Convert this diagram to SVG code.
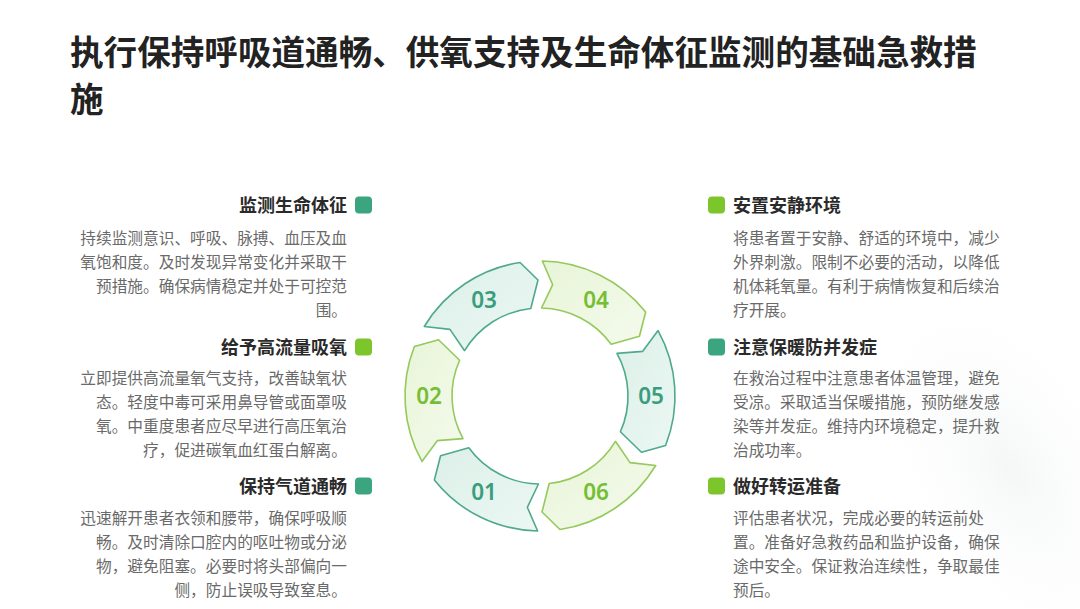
<svg xmlns="http://www.w3.org/2000/svg" width="1080" height="609" viewBox="0 0 1080 609">
<defs>
<style>
.title{font-family:"Noto Sans CJK SC","Noto Sans",sans-serif;font-weight:700;font-size:33.6px;fill:#222222}
.head{font-family:"Noto Sans CJK SC","Noto Sans",sans-serif;font-weight:700;font-size:18px;fill:#2a2a2a}
.body{font-family:"Noto Sans CJK SC","Noto Sans",sans-serif;font-size:15.7px;fill:#6a6a6a}
.l{text-anchor:end}
.num{font-family:"Noto Sans","Open Sans",sans-serif;font-weight:600;font-size:22.5px;text-anchor:middle}
.segT{fill:url(#gT);stroke:#4fa98c;stroke-width:1.6;stroke-linejoin:round}
.segG{fill:url(#gG);stroke:#95c95c;stroke-width:1.6;stroke-linejoin:round}
.nT{fill:#3a9d7e}
.nG{fill:#76be33}
.icT{fill:#3aa57e}
.icG{fill:#7cc52a}
</style>
<linearGradient id="gT" x1="0" y1="0" x2="1" y2="1">
<stop offset="0" stop-color="#dcf0e8"/>
<stop offset="1" stop-color="#ecf7f3"/>
</linearGradient>
<linearGradient id="gG" x1="0" y1="0" x2="1" y2="1">
<stop offset="0" stop-color="#e8f5d8"/>
<stop offset="1" stop-color="#f4faec"/>
</linearGradient>
<radialGradient id="bg" cx="0.5" cy="0.5" r="0.5">
<stop offset="0" stop-color="#f2f4f4" stop-opacity="0.8"/>
<stop offset="1" stop-color="#ffffff" stop-opacity="0"/>
</radialGradient>
</defs>
<rect width="1080" height="609" fill="#ffffff"/>
<ellipse cx="1010" cy="470" rx="120" ry="220" transform="rotate(-30 1010 470)" fill="url(#bg)"/>

<g id="title">
<text class="title" x="70" y="65">执行保持呼吸道通畅、供氧支持及生命体征监测的基础急救措</text>
<text class="title" x="70" y="112">施</text>
</g>

<g id="ring">
<g id="seg01">
<path class="segT" d="M537.64,530.98 A135,135 0 0 1 434.35,480.04 L440.57,455.74 L468.81,447.73 A88,88 0 0 0 538.46,483.99 L527.32,507.28 Z"/>
<text class="num nT" x="484" y="500">01</text>
</g>
<g id="seg02">
<path class="segG" d="M421.93,461.45 A135,135 0 0 1 414.40,346.52 L438.55,339.76 L459.61,360.21 A88,88 0 0 0 463.04,438.66 L437.28,440.65 Z"/>
<text class="num nG" x="429" y="404">02</text>
</g>
<g id="seg03">
<path class="segT" d="M424.28,326.47 A135,135 0 0 1 520.05,262.48 L537.98,280.02 L530.80,308.48 A88,88 0 0 0 464.57,350.68 L449.96,329.38 Z"/>
<text class="num nT" x="484" y="308">03</text>
</g>
<g id="seg04">
<path class="segG" d="M542.36,261.02 A135,135 0 0 1 645.65,311.96 L639.43,336.26 L611.19,344.27 A88,88 0 0 0 541.54,308.01 L552.68,284.72 Z"/>
<text class="num nG" x="596" y="308">04</text>
</g>
<g id="seg05">
<path class="segT" d="M658.07,330.55 A135,135 0 0 1 665.60,445.48 L641.45,452.24 L620.39,431.79 A88,88 0 0 0 616.96,353.34 L642.72,351.35 Z"/>
<text class="num nT" x="651" y="404">05</text>
</g>
<g id="seg06">
<path class="segG" d="M655.72,465.53 A135,135 0 0 1 559.95,529.52 L542.02,511.98 L549.20,483.52 A88,88 0 0 0 615.43,441.32 L630.04,462.62 Z"/>
<text class="num nG" x="596" y="500">06</text>
</g>
</g>

<g id="connectors"></g>

<g id="node-monitor">
<rect class="icT" x="355" y="196.5" width="17" height="17" rx="4"/>
<text class="head l" x="347" y="211.5">监测生命体征</text>
<text class="body l" x="347" y="243.5">持续监测意识、呼吸、脉搏、血压及血</text>
<text class="body l" x="347" y="267.5">氧饱和度。及时发现异常变化并采取干</text>
<text class="body l" x="347" y="291.5">预措施。确保病情稳定并处于可控范</text>
<text class="body l" x="347" y="315.5">围。</text>
</g>

<g id="node-oxygen">
<rect class="icG" x="355" y="338.5" width="17" height="17" rx="4"/>
<text class="head l" x="347" y="353.5">给予高流量吸氧</text>
<text class="body l" x="347" y="383.5">立即提供高流量氧气支持，改善缺氧状</text>
<text class="body l" x="347" y="407.5">态。轻度中毒可采用鼻导管或面罩吸</text>
<text class="body l" x="347" y="431.5">氧。中重度患者应尽早进行高压氧治</text>
<text class="body l" x="347" y="455.5">疗，促进碳氧血红蛋白解离。</text>
</g>

<g id="node-airway">
<rect class="icT" x="355" y="477.5" width="17" height="17" rx="4"/>
<text class="head l" x="347" y="492.5">保持气道通畅</text>
<text class="body l" x="347" y="523.5">迅速解开患者衣领和腰带，确保呼吸顺</text>
<text class="body l" x="347" y="547.5">畅。及时清除口腔内的呕吐物或分泌</text>
<text class="body l" x="347" y="571.5">物，避免阻塞。必要时将头部偏向一</text>
<text class="body l" x="347" y="595.5">侧，防止误吸导致窒息。</text>
</g>

<g id="node-quiet">
<rect class="icG" x="708" y="196.5" width="17" height="17" rx="4"/>
<text class="head" x="733" y="211.5">安置安静环境</text>
<text class="body" x="733" y="243.5">将患者置于安静、舒适的环境中，减少</text>
<text class="body" x="733" y="267.5">外界刺激。限制不必要的活动，以降低</text>
<text class="body" x="733" y="291.5">机体耗氧量。有利于病情恢复和后续治</text>
<text class="body" x="733" y="315.5">疗开展。</text>
</g>

<g id="node-warm">
<rect class="icT" x="708" y="338.5" width="17" height="17" rx="4"/>
<text class="head" x="733" y="353.5">注意保暖防并发症</text>
<text class="body" x="733" y="383.5">在救治过程中注意患者体温管理，避免</text>
<text class="body" x="733" y="407.5">受凉。采取适当保暖措施，预防继发感</text>
<text class="body" x="733" y="431.5">染等并发症。维持内环境稳定，提升救</text>
<text class="body" x="733" y="455.5">治成功率。</text>
</g>

<g id="node-transfer">
<rect class="icG" x="708" y="477.5" width="17" height="17" rx="4"/>
<text class="head" x="733" y="492.5">做好转运准备</text>
<text class="body" x="733" y="523.5">评估患者状况，完成必要的转运前处</text>
<text class="body" x="733" y="547.5">置。准备好急救药品和监护设备，确保</text>
<text class="body" x="733" y="571.5">途中安全。保证救治连续性，争取最佳</text>
<text class="body" x="733" y="595.5">预后。</text>
</g>
</svg>
